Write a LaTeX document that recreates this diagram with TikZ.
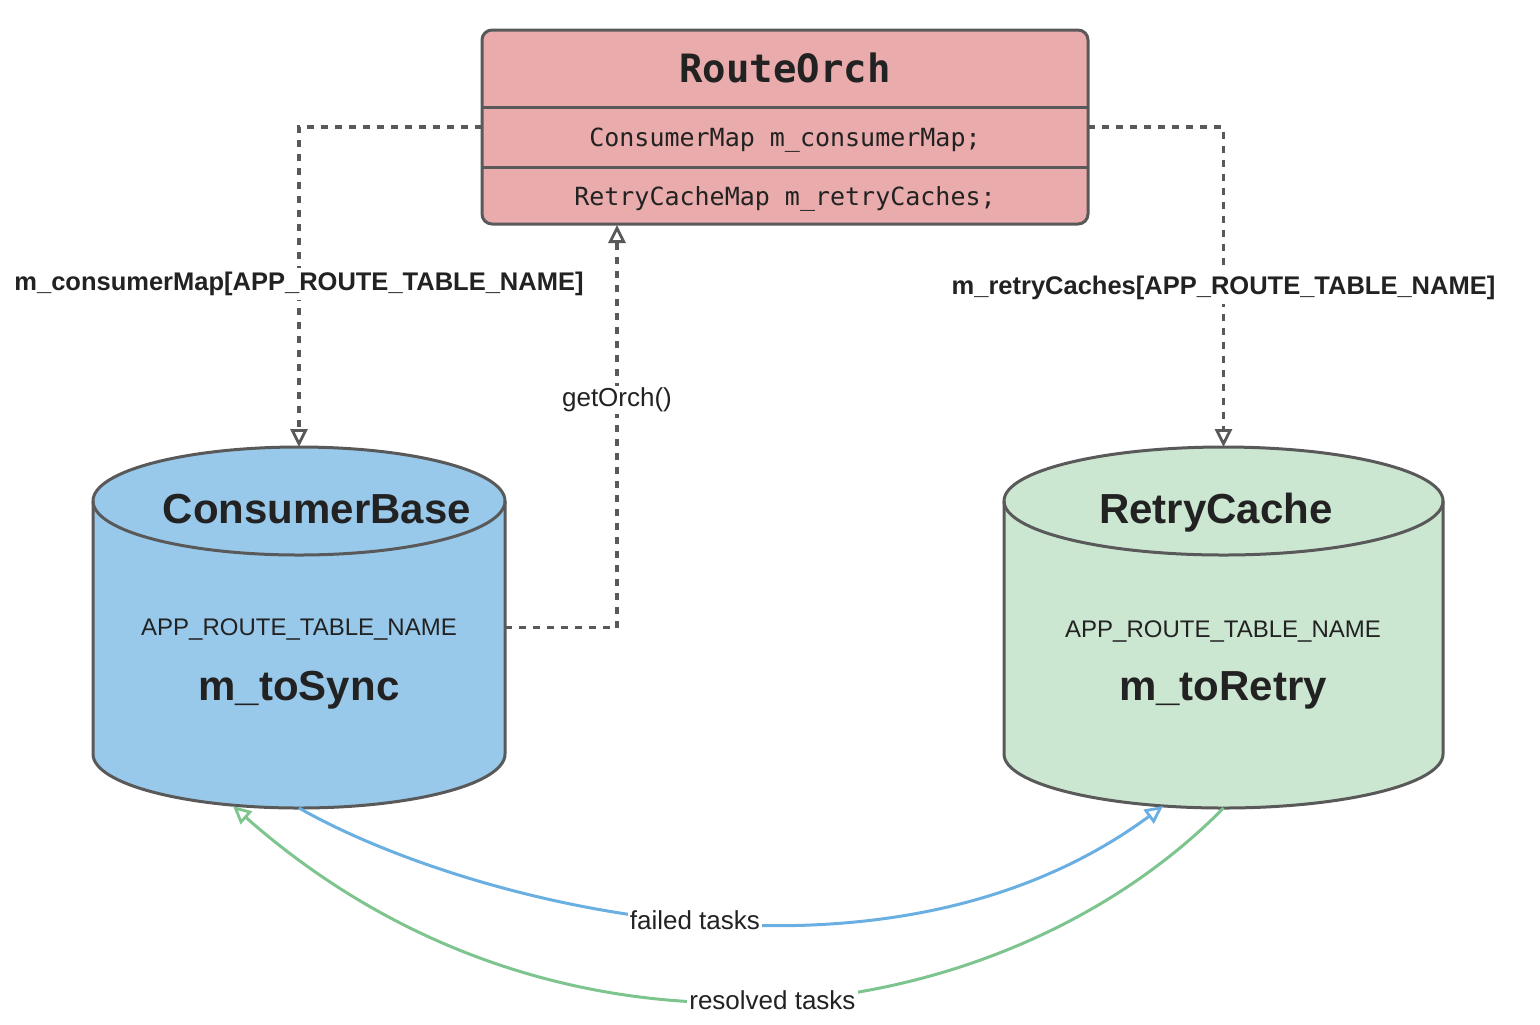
\documentclass[tikz,border=0pt]{standalone}
\usepackage{fontspec}
\setmainfont{Liberation Sans}
\setmonofont{DejaVu Sans Mono}
\usetikzlibrary{arrows.meta,positioning}

\definecolor{orchred}{HTML}{E9ABAB}
\definecolor{cbblue}{HTML}{99C9EA}
\definecolor{rcgreen}{HTML}{CCE7D1}
\definecolor{edgegray}{HTML}{595959}
\definecolor{inkgray}{HTML}{222222}
\definecolor{failblue}{HTML}{6AAFE2}
\definecolor{okgreen}{HTML}{7DC48E}

\begin{document}
\begin{tikzpicture}[x=0.5pt, y=-0.5pt, text=inkgray,
    classbox/.style ={draw=edgegray, line width=1.5pt, fill=orchred, rounded corners=5pt,
                      minimum width=303pt, minimum height=97pt, inner sep=0pt, outer sep=0pt},
    cylframe/.style ={inner sep=0pt, outer sep=0pt},
    cylline/.style ={draw=edgegray, line width=1.5pt},
    classname/.style ={font=\fontsize{19.5}{22}\ttfamily\bfseries},
    member/.style ={font=\fontsize{12.5}{15}\ttfamily},
    cyltitle/.style ={anchor=base, font=\fontsize{21}{25}\selectfont\bfseries},
    keytext/.style ={anchor=base, font=\fontsize{12}{14}\selectfont},
    valtext/.style ={anchor=base, font=\fontsize{21}{25}\selectfont\bfseries},
    dep/.style ={draw=edgegray, line width=1.7pt, dash pattern=on 3.5pt off 3.5pt,
                 -{Triangle[open, length=9pt, width=8.5pt, line width=1.4pt]}},
    flow/.style ={line width=1.5pt, -{Triangle[open, length=9pt, width=8.5pt, line width=1.4pt]}},
    edgelabel/.style ={fill=white, text=inkgray, inner sep=1pt, font=\fontsize{13}{15}\selectfont},
    keylabel/.style ={fill=white, text=inkgray, inner sep=2pt, font=\fontsize{12.75}{15}\selectfont\bfseries}]
   \useasboundingbox (0,0) rectangle (1540,1024);

   % RouteOrch class box
   \node[classbox] (ro) at (785,127) {};
   \draw[cylline] ([yshift=-38.5pt]ro.north west) -- ([yshift=-38.5pt]ro.north east);
   \draw[cylline] ([yshift=-68.5pt]ro.north west) -- ([yshift=-68.5pt]ro.north east);
   \node[classname] (roname) at (785,68) {RouteOrch};
   \node[member] (rocons) at (785,140) {ConsumerMap m\_consumerMap;};
   \node[member] (roretry) at (785,199) {RetryCacheMap m\_retryCaches;};

   % ConsumerBase cylinder
   \node[cylframe, minimum width=206pt, minimum height=180.5pt] (cb) at (299,627.5) {};
   \draw[cylline, fill=cbblue] ([yshift=-27pt]cb.north west) -- ([yshift=27pt]cb.south west)
       arc[start angle=180, end angle=360, x radius=103pt, y radius=27pt]
       -- ([yshift=-27pt]cb.north east)
       arc[start angle=0, end angle=180, x radius=103pt, y radius=27pt] -- cycle;
   \draw[cylline] ([yshift=-27pt]cb.north west)
       arc[start angle=180, end angle=360, x radius=103pt, y radius=27pt];
   \node[cyltitle] (cbname) at (317,523) {ConsumerBase};
   \node[keytext] (cbkey) at (299,635) {APP\_ROUTE\_TABLE\_NAME};
   \node[valtext] (cbval) at (299,700) {m\_toSync};

   % RetryCache cylinder
   \node[cylframe, minimum width=219.5pt, minimum height=180.5pt] (rc) at (1223.5,627.5) {};
   \draw[cylline, fill=rcgreen] ([yshift=-27pt]rc.north west) -- ([yshift=27pt]rc.south west)
       arc[start angle=180, end angle=360, x radius=109.75pt, y radius=27pt]
       -- ([yshift=-27pt]rc.north east)
       arc[start angle=0, end angle=180, x radius=109.75pt, y radius=27pt] -- cycle;
   \draw[cylline] ([yshift=-27pt]rc.north west)
       arc[start angle=180, end angle=360, x radius=109.75pt, y radius=27pt];
   \node[cyltitle] (rcname) at (1216,523) {RetryCache};
   \node[keytext] (rckey) at (1223,637) {APP\_ROUTE\_TABLE\_NAME};
   \node[valtext] (rcval) at (1223,700) {m\_toRetry};

   \coordinate (orchin) at (617,225);
   \coordinate (rcin) at (1163,806);
   \coordinate (cbin) at (233,806);

   % dependencies
   \draw[dep] (ro.west) -| node[keylabel, pos=0.745] {m\_consumerMap[APP\_ROUTE\_TABLE\_NAME]} (cb.north);
   \draw[dep] (ro.east) -| node[keylabel, pos=0.751] {m\_retryCaches[APP\_ROUTE\_TABLE\_NAME]} (rc.north);
   \draw[dep] (cb.east) -| node[edgelabel, pos=0.783] {getOrch()} (orchin);

   % task flows
   \draw[flow, failblue] (cb.south) .. controls (460,900) and (880,1015) ..
       node[edgelabel, pos=0.51] {failed tasks} (rcin);
   \draw[flow, okgreen] (rc.south) .. controls (1000,1035) and (560,1095) ..
       node[edgelabel, pos=0.495] {resolved tasks} (cbin);
 \end{tikzpicture}
\end{document}
